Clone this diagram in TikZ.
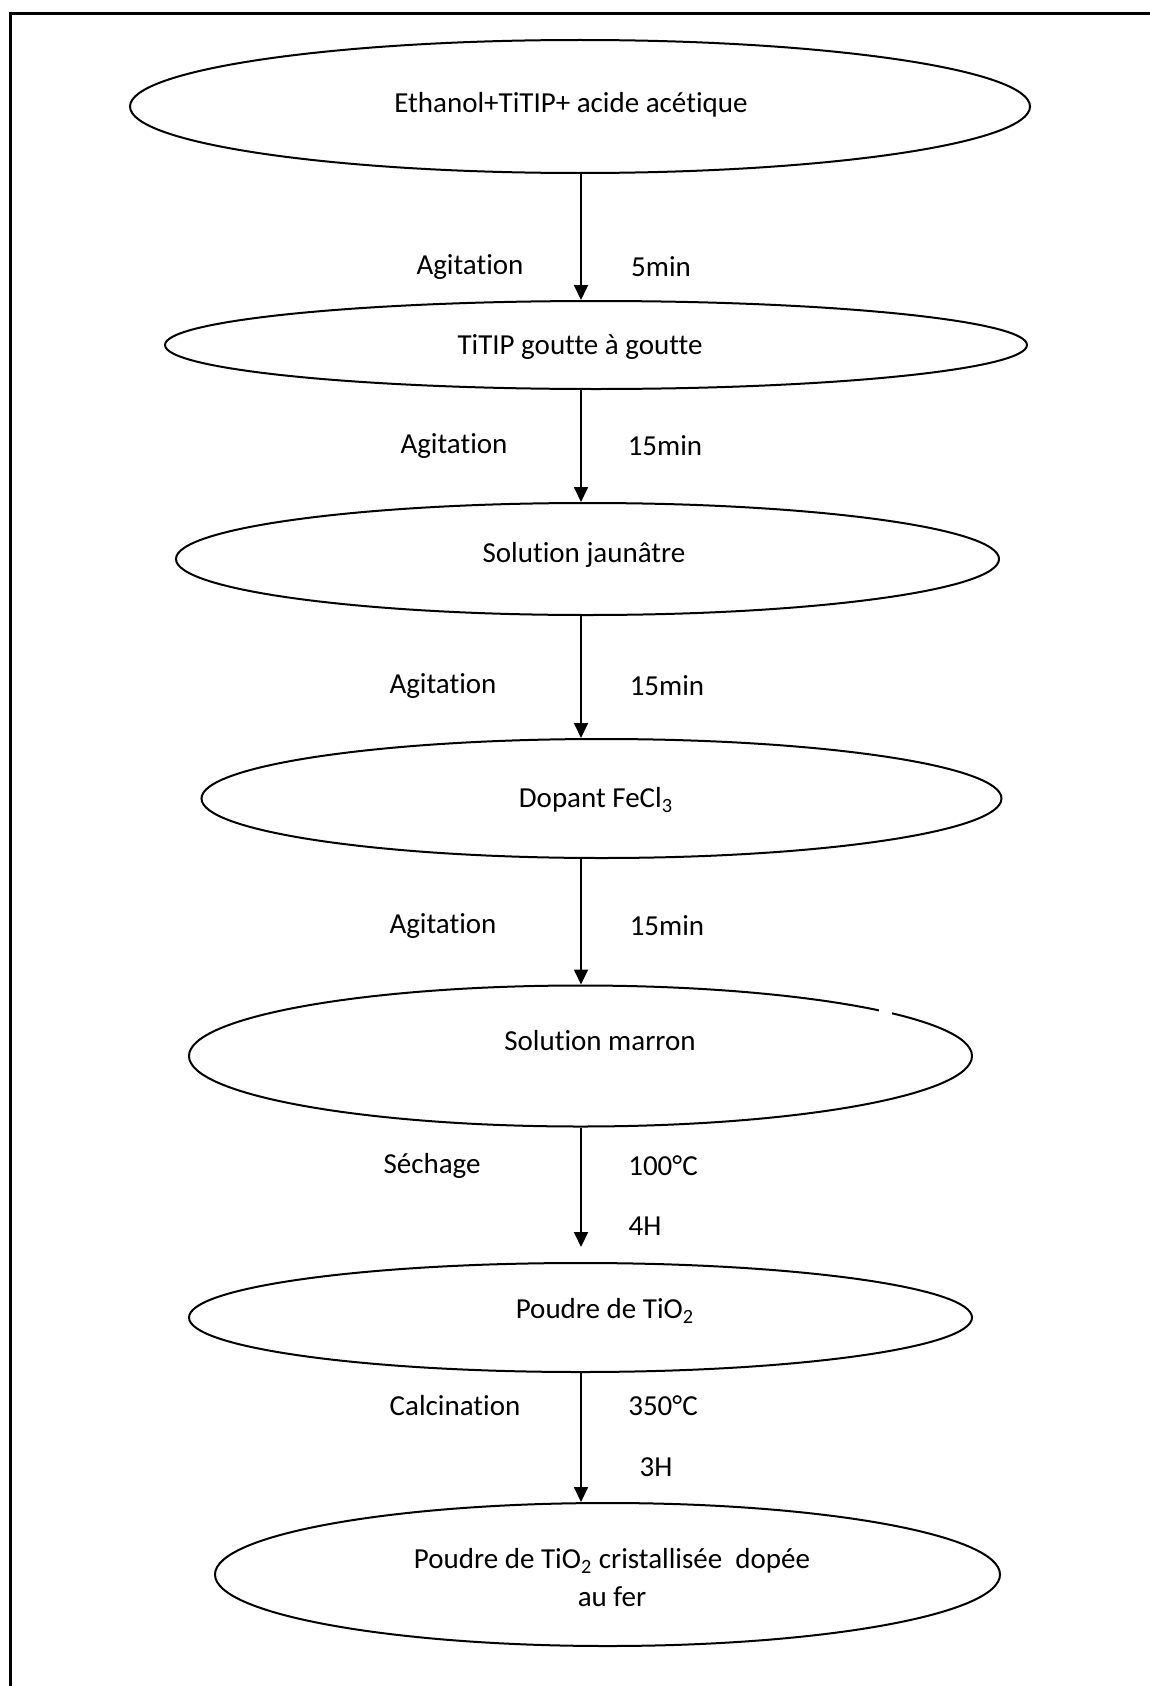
\documentclass[tikz,border=0pt]{standalone}
\usepackage{fontspec}
\setmainfont{Carlito}[Ligatures={NoCommon}]
\usetikzlibrary{shapes.geometric,arrows.meta}
\begin{document}
\begin{tikzpicture}[x=0.5pt,y=-0.5pt,
  oval/.style={ellipse, draw, line width=1pt, inner sep=0pt},
  lbl/.style={font=\fontsize{14.5}{17}\selectfont, inner sep=0pt, anchor=center},
  arr/.style={-{Triangle[width=7pt,length=7.5pt]}, line width=0.9pt}]
\useasboundingbox (0,0) rectangle (1150,1686);
% page frame (top and left rules)
\draw[line width=1.2pt] (10.5,1686) -- (10.5,13.5) -- (1150,13.5);
\coordinate (ax) at (581,0);
% ovals
\node[oval, minimum width=450pt, minimum height=66.5pt] (e1) at (580,106.5) {};
\node[oval, minimum width=431pt, minimum height=44pt] (e2) at (596,345) {};
\node[oval, minimum width=411.5pt, minimum height=56pt] (e3) at (587.5,559) {};
\node[oval, minimum width=400pt, minimum height=59.5pt] (e4) at (601.5,798.5) {};
\node[oval, minimum width=391.5pt, minimum height=70.5pt] (e5) at (580.5,1056) {};
\node[oval, minimum width=391.5pt, minimum height=54.5pt] (e6) at (580.5,1317.5) {};
\node[oval, minimum width=392.5pt, minimum height=71.5pt] (e7) at (607.5,1574.5) {};
% small gap in the outline of e5
\fill[white] (879,1004) rectangle (892,1018);
% oval texts
\node[lbl] (t1) at (571,105) {Ethanol+TiTIP+ acide acétique};
\node[lbl] (t2) at (580,347) {TiTIP goutte à goutte};
\node[lbl] (t3) at (584,555) {Solution jaunâtre};
\node[lbl] (t4) at (596,800) {Dopant FeCl\textsubscript{3}};
\node[lbl] (t5) at (600,1041) {Solution marron};
\node[lbl] (t6) at (605,1311) {Poudre de TiO\textsubscript{2}};
\node[lbl, align=center] (t7) at (612,1578) {Poudre de TiO\textsubscript{2} cristallisée\ \ dopée\\[2pt]au fer};
% connectors
\draw[arr] (e1.south -| ax) -- (e2.north -| ax);
\draw[arr] (e2.south -| ax) -- (e3.north -| ax);
\draw[arr] (e3.south -| ax) -- (e4.north -| ax);
\draw[arr] (e4.south -| ax) -- (e5.north -| ax);
\draw[arr, shorten >=7.5pt] (e5.south -| ax) -- (e6.north -| ax);
\draw[arr] (e6.south -| ax) -- (e7.north -| ax);
% step labels
\node[lbl] (a1l) at (470,267) {Agitation};
\node[lbl] (a1r) at (661,267) {5min};
\node[lbl] (a2l) at (454,446) {Agitation};
\node[lbl] (a2r) at (665,446) {15min};
\node[lbl] (a3l) at (443,686) {Agitation};
\node[lbl] (a3r) at (667,686) {15min};
\node[lbl] (a4l) at (443,926) {Agitation};
\node[lbl] (a4r) at (667,926) {15min};
\node[lbl] (a5l) at (432,1166) {Séchage};
\node[lbl] (a5r) at (663,1166) {100°C};
\node[lbl] (a5b) at (645,1226) {4H};
\node[lbl] (a6l) at (455,1406) {Calcination};
\node[lbl] (a6r) at (663,1406) {350°C};
\node[lbl] (a6b) at (656,1467) {3H};
\end{tikzpicture}
\end{document}
